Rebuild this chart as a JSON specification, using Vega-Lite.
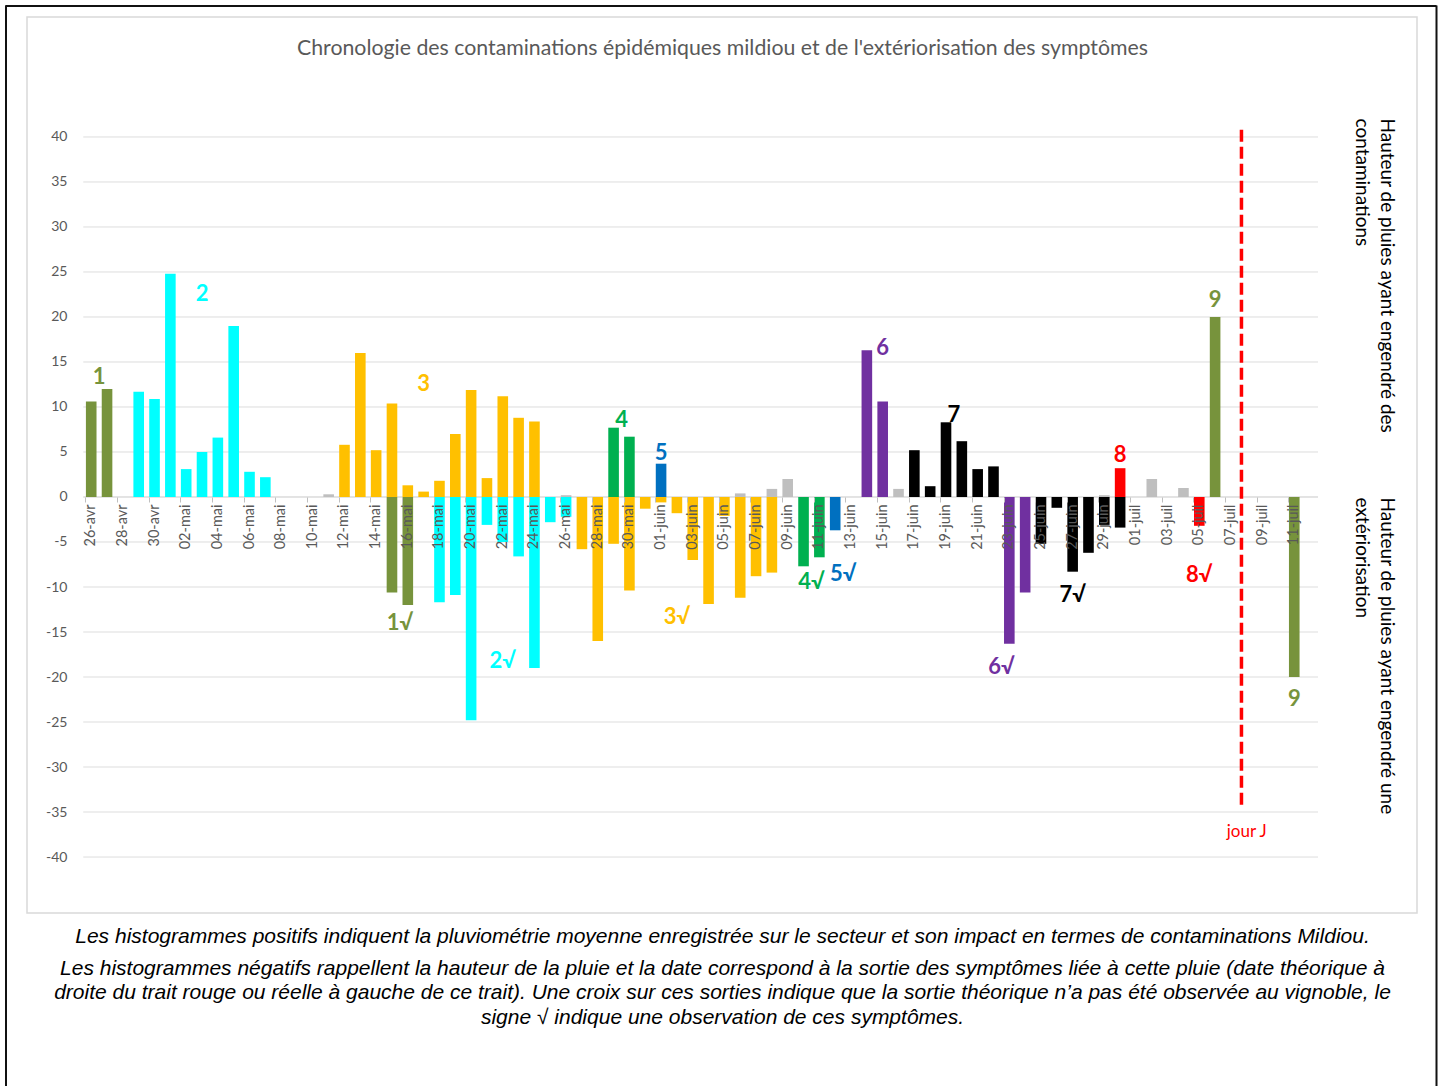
{
  "$schema": "https://vega.github.io/schema/vega-lite/v6.json",
  "width": 1390,
  "height": 896,
  "autosize": {"type": "none"},
  "padding": {"left": 27, "top": 17, "right": 28, "bottom": 173},
  "background": "white",
  "config": {"view": {"stroke": "#D9D9D9", "strokeWidth": 1.5}, "font": "Lato"},
  "datasets": {
    "bars": [
      {"d":"26-avr","v":10.6,"g":"1"},{"d":"27-avr","v":12.0,"g":"1"},
      {"d":"29-avr","v":11.7,"g":"2"},{"d":"30-avr","v":10.9,"g":"2"},
      {"d":"01-mai","v":24.8,"g":"2"},{"d":"02-mai","v":3.1,"g":"2"},
      {"d":"03-mai","v":5.0,"g":"2"},{"d":"04-mai","v":6.6,"g":"2"},
      {"d":"05-mai","v":19.0,"g":"2"},{"d":"06-mai","v":2.8,"g":"2"},
      {"d":"07-mai","v":2.2,"g":"2"},{"d":"11-mai","v":0.3,"g":"0"},
      {"d":"12-mai","v":5.8,"g":"3"},{"d":"13-mai","v":16.0,"g":"3"},
      {"d":"14-mai","v":5.2,"g":"3"},{"d":"15-mai","v":10.4,"g":"3"},
      {"d":"15-mai","v":-10.6,"g":"1"},{"d":"16-mai","v":1.3,"g":"3"},
      {"d":"16-mai","v":-12.0,"g":"1"},{"d":"17-mai","v":0.6,"g":"3"},
      {"d":"18-mai","v":1.8,"g":"3"},{"d":"18-mai","v":-11.7,"g":"2"},
      {"d":"19-mai","v":7.0,"g":"3"},{"d":"19-mai","v":-10.9,"g":"2"},
      {"d":"20-mai","v":11.9,"g":"3"},{"d":"20-mai","v":-24.8,"g":"2"},
      {"d":"21-mai","v":2.1,"g":"3"},{"d":"21-mai","v":-3.1,"g":"2"},
      {"d":"22-mai","v":11.2,"g":"3"},{"d":"22-mai","v":-5.0,"g":"2"},
      {"d":"23-mai","v":8.8,"g":"3"},{"d":"23-mai","v":-6.6,"g":"2"},
      {"d":"24-mai","v":8.4,"g":"3"},{"d":"24-mai","v":-19.0,"g":"2"},
      {"d":"25-mai","v":-2.8,"g":"2"},{"d":"26-mai","v":0.2,"g":"0"},
      {"d":"26-mai","v":-2.2,"g":"2"},{"d":"27-mai","v":-5.8,"g":"3"},
      {"d":"28-mai","v":-16.0,"g":"3"},{"d":"29-mai","v":7.7,"g":"4"},
      {"d":"29-mai","v":-5.2,"g":"3"},{"d":"30-mai","v":6.7,"g":"4"},
      {"d":"30-mai","v":-10.4,"g":"3"},{"d":"31-mai","v":-1.3,"g":"3"},
      {"d":"01-juin","v":3.7,"g":"5"},{"d":"01-juin","v":-0.6,"g":"3"},
      {"d":"02-juin","v":-1.8,"g":"3"},{"d":"03-juin","v":-7.0,"g":"3"},
      {"d":"04-juin","v":-11.9,"g":"3"},{"d":"05-juin","v":-2.1,"g":"3"},
      {"d":"06-juin","v":0.4,"g":"0"},{"d":"06-juin","v":-11.2,"g":"3"},
      {"d":"07-juin","v":-8.8,"g":"3"},{"d":"08-juin","v":0.9,"g":"0"},
      {"d":"08-juin","v":-8.4,"g":"3"},{"d":"09-juin","v":2.0,"g":"0"},
      {"d":"10-juin","v":-7.7,"g":"4"},{"d":"11-juin","v":-6.7,"g":"4"},
      {"d":"12-juin","v":-3.7,"g":"5"},{"d":"14-juin","v":16.3,"g":"6"},
      {"d":"15-juin","v":10.6,"g":"6"},{"d":"16-juin","v":0.9,"g":"0"},
      {"d":"17-juin","v":5.2,"g":"7"},{"d":"18-juin","v":1.2,"g":"7"},
      {"d":"19-juin","v":8.3,"g":"7"},{"d":"20-juin","v":6.2,"g":"7"},
      {"d":"21-juin","v":3.1,"g":"7"},{"d":"22-juin","v":3.4,"g":"7"},
      {"d":"23-juin","v":-16.3,"g":"6"},{"d":"24-juin","v":-10.6,"g":"6"},
      {"d":"25-juin","v":-5.2,"g":"7"},{"d":"26-juin","v":-1.2,"g":"7"},
      {"d":"27-juin","v":-8.3,"g":"7"},{"d":"28-juin","v":-6.2,"g":"7"},
      {"d":"29-juin","v":0.2,"g":"0"},{"d":"29-juin","v":-3.1,"g":"7"},
      {"d":"30-juin","v":3.2,"g":"8"},{"d":"30-juin","v":-3.4,"g":"7"},
      {"d":"02-juil","v":2.0,"g":"0"},{"d":"04-juil","v":1.0,"g":"0"},
      {"d":"05-juil","v":-3.2,"g":"8"},{"d":"06-juil","v":20.0,"g":"9"},
      {"d":"11-juil","v":-20.0,"g":"9"}
    ],
    "grid": [
      {"g":-40},{"g":-35},{"g":-30},{"g":-25},{"g":-20},{"g":-15},{"g":-10},{"g":-5},{"g":0},
      {"g":5},{"g":10},{"g":15},{"g":20},{"g":25},{"g":30},{"g":35},{"g":40}
    ],
    "annCenter": [
      {"d":"03-mai","v":22.5,"t":"2","g":"2"},
      {"d":"17-mai","v":12.6,"t":"3","g":"3"},
      {"d":"01-juin","v":4.9,"t":"5","g":"5"},
      {"d":"15-juin","v":16.5,"t":"6","g":"6"},
      {"d":"30-juin","v":4.7,"t":"8","g":"8"},
      {"d":"06-juil","v":21.9,"t":"9","g":"9"},
      {"d":"22-mai","v":-18.2,"t":"2√","g":"2"},
      {"d":"02-juin","v":-13.3,"t":"3√","g":"3"},
      {"d":"27-juin","v":-10.9,"t":"7√","g":"7"},
      {"d":"05-juil","v":-8.7,"t":"8√","g":"8"},
      {"d":"11-juil","v":-22.4,"t":"9","g":"9"}
    ],
    "annBetween": [
      {"d":"26-avr","v":13.3,"t":"1","g":"1"},
      {"d":"29-mai","v":8.6,"t":"4","g":"4"},
      {"d":"19-juin","v":9.1,"t":"7","g":"7"},
      {"d":"15-mai","v":-14.0,"t":"1√","g":"1"},
      {"d":"10-juin","v":-9.4,"t":"4√","g":"4"},
      {"d":"12-juin","v":-8.5,"t":"5√","g":"5"},
      {"d":"22-juin","v":-18.9,"t":"6√","g":"6"}
    ],
    "jour": [{"d":"08-juil","top":40.8,"bot":-34.2,"lab":-37.2,"t":"jour J"}],
    "frame": [{"a":0},{"a":1}]
  },
  "layer": [
    {
      "layer": [
        {
          "data": {"name": "grid"},
          "mark": {"type": "rule", "strokeWidth": 1},
          "encoding": {
            "x": {"datum": "26-avr", "type": "ordinal", "bandPosition": -0.25,
              "scale": {"type": "band", "paddingInner": 0.33, "paddingOuter": 0.165, "range": [56.3, 1291],
                "domain": ["26-avr","27-avr","28-avr","29-avr","30-avr","01-mai","02-mai","03-mai","04-mai","05-mai","06-mai","07-mai","08-mai","09-mai","10-mai","11-mai","12-mai","13-mai","14-mai","15-mai","16-mai","17-mai","18-mai","19-mai","20-mai","21-mai","22-mai","23-mai","24-mai","25-mai","26-mai","27-mai","28-mai","29-mai","30-mai","31-mai","01-juin","02-juin","03-juin","04-juin","05-juin","06-juin","07-juin","08-juin","09-juin","10-juin","11-juin","12-juin","13-juin","14-juin","15-juin","16-juin","17-juin","18-juin","19-juin","20-juin","21-juin","22-juin","23-juin","24-juin","25-juin","26-juin","27-juin","28-juin","29-juin","30-juin","01-juil","02-juil","03-juil","04-juil","05-juil","06-juil","07-juil","08-juil","09-juil","10-juil","11-juil","12-juil"]},
              "axis": {"orient": "bottom", "offset": 0, "domain": false, "ticks": false, "labels": false, "grid": false,
                "title": ["Les histogrammes négatifs rappellent la hauteur de la pluie et la date correspond à la sortie des symptômes liée à cette pluie (date théorique à",
                          "droite du trait rouge ou réelle à gauche de ce trait). Une croix sur ces sorties indique que la sortie théorique n’a pas été observée au vignoble, le",
                          "signe √ indique une observation de ces symptômes."],
                "titleX": 695, "titleY": 44, "titleAlign": "center", "titleBaseline": "top", "titleAngle": 0,
                "titleFont": "Liberation Sans", "titleFontSize": 21, "titleFontStyle": "italic", "titleFontWeight": "normal",
                "titleColor": "#000000", "titleLineHeight": 24.5}},
            "x2": {"datum": "12-juil", "bandPosition": 1.25},
            "y": {"field": "g", "type": "quantitative",
              "scale": {"domain": [-46.22, 53.33], "nice": false, "zero": false},
              "axis": {"orient": "right", "offset": 0, "domain": false, "ticks": false, "labels": false, "grid": false,
                "title": ["Hauteur de pluies ayant engendré des", "contaminations"],
                "titleAngle": 90, "titleX": -22, "titleY": 101, "titleAlign": "left", "titleBaseline": "top",
                "titleFont": "Lato", "titleFontSize": 19, "titleFontWeight": "normal", "titleColor": "#000000", "titleLineHeight": 25}},
            "color": {"condition": {"test": "datum.g === 0", "value": "#C8C8C8"}, "value": "#DDDDDD"}
          }
        },
        {
          "data": {"name": "bars"},
          "mark": {"type": "bar"},
          "encoding": {
            "x": {"field": "d", "type": "ordinal",
              "axis": {"orient": "bottom", "offset": -416, "zindex": 1,
                "values": ["26-avr","28-avr","30-avr","02-mai","04-mai","06-mai","08-mai","10-mai","12-mai","14-mai","16-mai","18-mai","20-mai","22-mai","24-mai","26-mai","28-mai","30-mai","01-juin","03-juin","05-juin","07-juin","09-juin","11-juin","13-juin","15-juin","17-juin","19-juin","21-juin","23-juin","25-juin","27-juin","29-juin","01-juil","03-juil","05-juil","07-juil","09-juil","11-juil"],
                "domain": false, "grid": false, "ticks": true, "tickSize": 5, "tickColor": "#BFBFBF", "tickWidth": 1, "bandPosition": 0,
                "labelAngle": 270, "labelAlign": "right", "labelBaseline": "middle", "labelPadding": 2, "labelOverlap": false,
                "labelFont": "Lato", "labelFontSize": 14.5, "labelColor": "#595959", "title": null}},
            "y": {"field": "v", "type": "quantitative", "stack": null,
              "scale": {"domain": [-46.22, 53.33], "nice": false, "zero": false},
              "axis": {"orient": "left", "offset": -42, "values": [-40,-35,-30,-25,-20,-15,-10,-5,0,5,10,15,20,25,30,35,40],
                "labelExpr": "'' + datum.value",
                "grid": false, "domain": false, "ticks": false, "labelPadding": 2,
                "labelFont": "Lato", "labelFontSize": 14, "labelColor": "#595959", "title": null}},
            "color": {"field": "g", "type": "nominal",
              "scale": {"domain": ["0","1","2","3","4","5","6","7","8","9"],
                "range": ["#BFBFBF","#77933C","#00FFFF","#FFC000","#00B050","#0070C0","#7030A0","#000000","#FF0000","#77933C"]},
              "legend": null}
          }
        },
        {
          "data": {"name": "annCenter"},
          "mark": {"type": "text", "font": "Lato", "fontWeight": "bold", "fontSize": 22, "baseline": "middle", "align": "center"},
          "encoding": {
            "x": {"field": "d", "type": "ordinal",
              "axis": {"orient": "top", "offset": 0, "domain": false, "ticks": false, "labels": false, "grid": false,
                "title": "Chronologie des contaminations épidémiques mildiou et de l'extériorisation des symptômes",
                "titleX": 695, "titleY": 37, "titleAlign": "center", "titleBaseline": "alphabetic", "titleAngle": 0,
                "titleFont": "Lato", "titleFontSize": 21.3, "titleFontWeight": "normal", "titleColor": "#595959"}},
            "y": {"field": "v", "type": "quantitative",
              "axis": {"orient": "right", "offset": 0, "domain": false, "ticks": false, "labels": false, "grid": false,
                "title": ["Hauteur de pluies ayant engendré une", "extériorisation"],
                "titleAngle": 90, "titleX": -22, "titleY": 480, "titleAlign": "left", "titleBaseline": "top",
                "titleFont": "Lato", "titleFontSize": 19, "titleFontWeight": "normal", "titleColor": "#000000", "titleLineHeight": 25}},
            "text": {"field": "t"},
            "color": {"field": "g", "type": "nominal", "legend": null}
          }
        },
        {
          "data": {"name": "annBetween"},
          "mark": {"type": "text", "font": "Lato", "fontWeight": "bold", "fontSize": 22, "baseline": "middle", "align": "center"},
          "encoding": {
            "x": {"field": "d", "type": "ordinal", "bandPosition": 1.25,
              "axis": {"orient": "bottom", "offset": 0, "domain": false, "ticks": false, "labels": false, "grid": false,
                "title": "Les histogrammes positifs indiquent la pluviométrie moyenne enregistrée sur le secteur et son impact en termes de contaminations Mildiou.",
                "titleX": 695, "titleY": 12, "titleAlign": "center", "titleBaseline": "top", "titleAngle": 0,
                "titleFont": "Liberation Sans", "titleFontSize": 21, "titleFontStyle": "italic", "titleFontWeight": "normal",
                "titleColor": "#000000"}},
            "y": {"field": "v", "type": "quantitative", "axis": null},
            "text": {"field": "t"},
            "color": {"field": "g", "type": "nominal", "legend": null}
          }
        },
        {
          "data": {"name": "jour"},
          "mark": {"type": "rule", "color": "#FF0000", "strokeWidth": 3.5, "strokeDash": [12, 5]},
          "encoding": {
            "x": {"field": "d", "type": "ordinal", "bandPosition": 0, "axis": null},
            "y": {"field": "top", "type": "quantitative", "axis": null},
            "y2": {"field": "bot"}
          }
        },
        {
          "data": {"name": "jour"},
          "mark": {"type": "text", "color": "#FF0000", "font": "Lato", "fontSize": 17, "baseline": "middle", "align": "center"},
          "encoding": {
            "x": {"field": "d", "type": "ordinal", "axis": null},
            "y": {"field": "lab", "type": "quantitative", "axis": null},
            "text": {"field": "t"}
          }
        }
      ],
      "resolve": {"axis": {"x": "independent", "y": "independent"}}
    },
    {
      "data": {"name": "frame"},
      "mark": {"type": "point", "opacity": 0},
      "encoding": {
        "x": {"field": "a", "type": "quantitative", "scale": {"domain": [0, 1], "range": [-22, 1409]},
          "axis": {"orient": "top", "offset": 11.5, "domainColor": "#111111", "domainWidth": 2, "labels": false, "ticks": false, "grid": false, "title": null}},
        "y": {"field": "a", "type": "quantitative", "scale": {"domain": [0, 1], "range": [1073, -12]},
          "axis": {"orient": "left", "offset": 21.5, "domainColor": "#111111", "domainWidth": 2, "labels": false, "ticks": false, "grid": false, "title": null}}
      }
    },
    {
      "data": {"name": "frame"},
      "mark": {"type": "point", "opacity": 0},
      "encoding": {
        "y": {"field": "a", "type": "quantitative", "scale": {"domain": [0, 1], "range": [1073, -12]},
          "axis": {"orient": "right", "offset": 19, "domainColor": "#111111", "domainWidth": 2, "labels": false, "ticks": false, "grid": false, "title": null}}
      }
    }
  ],
  "resolve": {"scale": {"x": "independent", "y": "independent"}, "axis": {"x": "independent", "y": "independent"}}
}
